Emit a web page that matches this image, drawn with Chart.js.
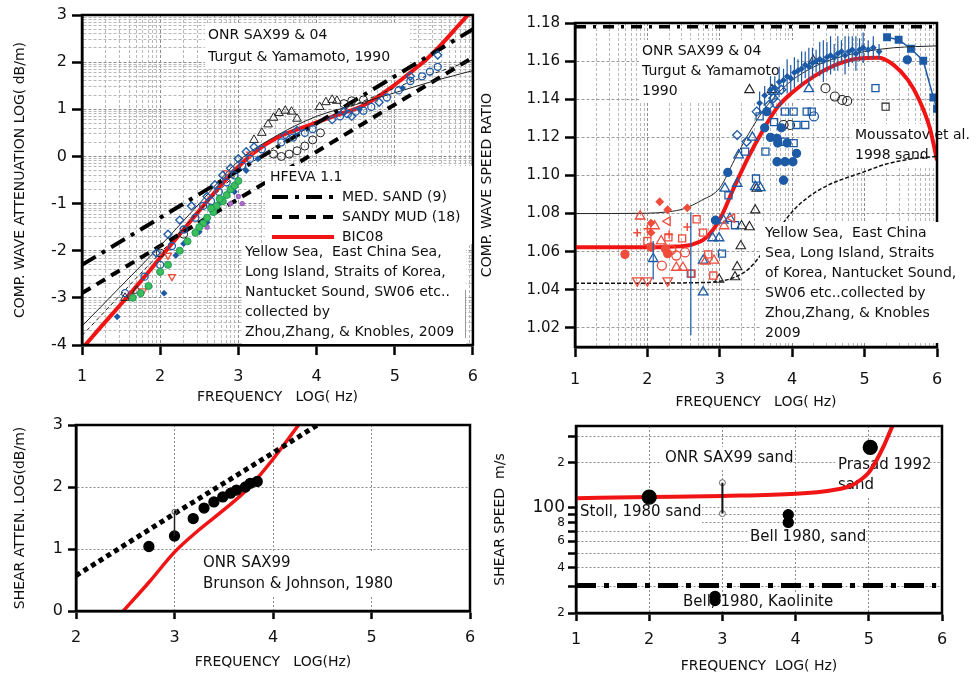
<!DOCTYPE html>
<html>
<head>
<meta charset="utf-8">
<script src="https://cdn.jsdelivr.net/npm/chart.js@4.4.0/dist/chart.umd.min.js"></script>
<style>
  body { margin: 0; background: #fff; width: 977px; height: 679px; position: relative; overflow: hidden; }
  .panel { position: absolute; }
</style>
</head>
<body>
<div class="panel" style="left:0;top:0;width:490px;height:410px"><canvas id="compAtten"></canvas></div>
<div class="panel" style="left:477px;top:0;width:500px;height:415px;background:#fff"><canvas id="compSpeed"></canvas></div>
<div class="panel" style="left:0;top:410px;width:490px;height:265px"><canvas id="shearAtten"></canvas></div>
<div class="panel" style="left:490px;top:410px;width:487px;height:269px"><canvas id="shearSpeed"></canvas></div>
<script>
// ---------- compressional attenuation, log10(dB/m) vs log10(Hz) ----------
const bicFreq = [1.0, 1.25, 1.5, 1.75, 2.0, 2.25, 2.5, 2.75, 3.0, 3.2, 3.5, 3.8, 4.0, 4.3, 4.6, 5.0, 5.2, 5.4, 5.6, 5.8, 6.0];
const bicAtten = [-4.08, -3.6, -3.13, -2.65, -2.15, -1.65, -1.15, -0.66, -0.22, 0.08, 0.4, 0.6, 0.72, 0.9, 1.08, 1.52, 1.78, 2.05, 2.38, 2.75, 3.12];
const medSandFreq = [1, 6];
const medSandAtten = [-2.3, 2.7];
const sandyMudFreq = [1, 6];
const sandyMudAtten = [-2.9, 2.1];
const turgutFreq = [1, 1.5, 2, 2.5, 3, 3.5, 4, 4.5, 5, 5.5, 6];
const turgutAtten = [-3.6, -2.75, -1.9, -1.0, -0.1, 0.45, 0.85, 1.1, 1.35, 1.6, 1.82];
const zhouFreq = [1, 2, 3, 4, 5, 6];
const zhouAtten = [-3.8, -2.05, -0.35, 0.7, 1.45, 2.05];

const attenBlueCirc = [[1.55,-2.9],[1.8,-2.55],[2.0,-2.3],[2.15,-1.9],[2.3,-1.55],[2.45,-1.3],[2.55,-1.05],[2.65,-0.95],[2.75,-0.75],[2.85,-0.55],[2.95,-0.4],[3.05,-0.2],[3.15,-0.05],[3.3,0.15],[3.55,0.3],[3.7,0.4],[3.85,0.5],[3.95,0.58],[4.3,0.85],[4.4,0.9],[4.5,0.95],[4.6,0.97],[4.7,1.05],[4.9,1.25],[5.05,1.4],[5.2,1.6],[5.35,1.7],[5.45,1.8],[5.55,1.9]];
const attenBlueDiam = [[1.95,-2.05],[2.1,-1.65],[2.25,-1.35],[2.4,-1.05],[2.6,-0.85],[2.7,-0.6],[2.8,-0.4],[2.9,-0.25],[3.0,-0.05],[3.1,0.1],[3.2,0.2],[4.2,0.78],[4.35,0.95],[4.45,0.85],[4.8,1.15],[5.2,1.7],[5.55,2.15],[3.6,0.45],[3.75,0.55]];
const attenBlueDot = [[1.45,-3.4],[2.05,-2.9],[2.3,-1.85],[2.5,-1.6],[2.75,-1.0],[2.95,-0.75],[3.1,-0.3],[3.25,-0.05],[2.2,-2.1],[2.6,-1.4],[5.1,1.45],[4.55,1.0]];
const attenGreen = [[1.65,-3.0],[1.75,-2.9],[1.85,-2.75],[2.0,-2.45],[2.1,-2.3],[2.25,-2.0],[2.35,-1.8],[2.45,-1.62],[2.55,-1.42],[2.6,-1.3],[2.68,-1.18],[2.72,-1.05],[2.8,-0.95],[2.85,-0.82],[2.9,-0.7],[2.95,-0.62],[3.0,-0.52],[2.5,-1.5],[2.76,-0.9],[2.65,-1.1]];
const attenBlackTri = [[3.2,0.35],[3.3,0.5],[3.38,0.68],[3.45,0.82],[3.52,0.92],[3.6,0.97],[3.68,0.95],[3.75,0.8],[4.04,1.05],[4.12,1.15],[4.2,1.2],[4.26,1.18],[1.55,-3.0],[1.7,-2.85]];
const attenBlackCirc = [[3.45,0.05],[3.55,0.0],[3.65,0.05],[3.75,0.12],[3.85,0.22],[3.95,0.35],[4.05,0.5],[4.35,1.12],[4.45,1.18],[4.6,1.2],[2.0,-2.05],[2.3,-1.65]];
const attenRed = [[2.1,-2.1],[2.15,-2.55],[2.85,-0.35],[3.15,0.05],[1.78,-2.85]];
const attenPurple = [[2.9,-1.0],[3.0,-0.85],[2.6,-1.5],[3.05,-1.0]];

// ---------- compressional speed ratio vs log10(Hz) ----------
const speedFreq = [1, 1.5, 2, 2.3, 2.6, 2.8, 3.0, 3.2, 3.4, 3.6, 3.8, 4.0, 4.3, 4.6, 4.9, 5.2, 5.4, 5.6, 5.75, 5.9, 6.0];
const speedBic = [1.0623, 1.0623, 1.0623, 1.0626, 1.0636, 1.067, 1.077, 1.094, 1.11, 1.124, 1.136, 1.1435, 1.152, 1.158, 1.1613, 1.1618, 1.158, 1.15, 1.14, 1.125, 1.108];
const turgutSpeedFreq = [1, 2, 2.3, 2.5, 2.75, 3.0, 3.2, 3.4, 3.6, 3.8, 4.0, 4.3, 4.6, 5.0, 5.4, 6.0];
const turgutSpeed = [1.08, 1.0802, 1.081, 1.0825, 1.087, 1.0935, 1.108, 1.122, 1.134, 1.143, 1.15, 1.157, 1.1615, 1.165, 1.167, 1.168];
const moussFreq = [1, 2, 2.6, 3.0, 3.2, 3.4, 3.6, 3.8, 4.0, 4.2, 4.5, 5.0, 5.3, 5.7, 6.0];
const moussSpeed = [1.0435, 1.0435, 1.0437, 1.0445, 1.0465, 1.051, 1.06, 1.071, 1.081, 1.088, 1.095, 1.102, 1.106, 1.109, 1.11];
const medSandSpeedFreq = [1, 6];
const medSandSpeed = [1.178, 1.178];
const onrSpeedFreq = [5.31, 5.47, 5.64, 5.81, 5.95, 6.0];
const onrSpeed = [1.1725, 1.1712, 1.1665, 1.1602, 1.1409, 1.135];
const onrBarFreq = [2.08, 2.6, 3.55, 3.62, 3.7, 3.76, 3.82, 3.88, 3.93, 3.98, 4.03, 4.08, 4.13, 4.18, 4.23, 4.28, 4.33, 4.38, 4.43, 4.48, 4.53, 4.58, 4.63, 4.68, 4.73, 4.78, 4.83, 4.88, 4.93, 4.98, 5.05, 5.12, 5.2];
const onrBarMid = [1.0555, 1.0485, 1.138, 1.142, 1.145, 1.146, 1.149, 1.15, 1.152, 1.151, 1.154, 1.155, 1.156, 1.158, 1.157, 1.159, 1.16, 1.161, 1.16, 1.162, 1.163, 1.162, 1.164, 1.165, 1.163, 1.165, 1.166, 1.164, 1.166, 1.167, 1.166, 1.167, 1.165];
const onrBarHalf = [0.0101, 0.0322, 0.006, 0.005, 0.007, 0.006, 0.008, 0.006, 0.009, 0.007, 0.008, 0.006, 0.009, 0.007, 0.01, 0.008, 0.006, 0.009, 0.011, 0.008, 0.01, 0.007, 0.009, 0.006, 0.01, 0.008, 0.007, 0.009, 0.006, 0.008, 0.005, 0.006, 0.004];

const speedRedTri = [[1.9,1.0786],[2.1,1.0735],[2.19,1.0656],[2.4,1.0517],[2.49,1.0517],[2.8,1.055],[2.92,1.0554],[3.06,1.0735]];
const speedRedTriLeft = [[2.28,1.076],[3.17,1.0776]];
const speedRedSq = [[2.0,1.0656],[2.29,1.0675],[2.48,1.067],[2.68,1.077],[2.77,1.07],[2.61,1.0485],[2.84,1.0586],[2.91,1.0475]];
const speedRedCirc = [[2.2,1.0527],[2.4,1.058],[2.52,1.0596],[2.33,1.061]];
const speedRedDot = [[1.69,1.0586],[2.28,1.059],[2.25,1.0615],[2.05,1.0625]];
const speedRedDiam = [[2.17,1.0862],[2.28,1.082],[2.55,1.083],[2.05,1.075],[2.05,1.07]];
const speedRedCross = [[1.86,1.07],[2.0,1.072],[2.3,1.069],[2.05,1.062],[2.55,1.073]];
const speedRedInv = [[1.86,1.0448],[2.0,1.0448],[2.28,1.0448]];
const speedBlueTri = [[2.08,1.0563],[2.77,1.0388],[2.77,1.0554],[2.9,1.0672],[2.99,1.0672],[3.05,1.0765],[3.14,1.0774],[3.07,1.0932],[3.24,1.0958],[3.26,1.1107],[3.49,1.094],[3.56,1.0935],[3.74,1.144],[4.23,1.1454],[3.45,1.12]];
const speedBlueSq = [[2.6,1.0485],[3.03,1.059],[3.21,1.0739],[3.12,1.0896],[3.35,1.1125],[3.5,1.0984],[3.63,1.1125],[3.9,1.1177],[4.02,1.117],[3.9,1.1335],[4.02,1.1335],[4.06,1.1265],[4.18,1.1265],[4.2,1.1335],[4.27,1.1335],[5.15,1.1458],[3.55,1.131],[3.75,1.128]];
const speedBlueDot = [[2.94,1.0765],[3.11,1.1016],[3.65,1.1335],[3.79,1.1195],[3.79,1.1072],[3.9,1.1072],[4.01,1.1072],[3.88,1.0975],[3.8,1.117],[3.93,1.117],[4.06,1.1116],[3.62,1.125],[3.7,1.12],[3.85,1.125],[5.59,1.1607]];
const speedBlueDiam = [[3.24,1.1212],[3.37,1.1177],[3.51,1.1335],[3.74,1.1405],[3.68,1.137],[3.85,1.145]];
const speedBlueCirc = [[4.3,1.131],[3.78,1.138]];
const speedBlackTri = [[3.41,1.1449],[3.72,1.1449],[4.29,1.1602],[3.49,1.0818],[3.41,1.073],[3.3,1.0735],[3.29,1.063],[3.24,1.052],[3.21,1.0467],[2.99,1.0454],[3.51,1.0932]];
const speedBlackCirc = [[3.88,1.1265],[3.97,1.1265],[4.46,1.1458],[4.59,1.1414],[4.69,1.1396],[4.76,1.1391]];
const speedBlackSq = [[5.29,1.1361]];

// ---------- shear attenuation ----------
const shearBicFreq = [2.48, 2.75, 3.0, 3.25, 3.5, 3.75, 4.0, 4.26];
const shearBicAtten = [0, 0.48, 0.95, 1.31, 1.63, 1.98, 2.45, 3.0];
const shearHfevaFreq = [2, 3, 4, 4.45];
const shearHfevaAtten = [0.57, 1.57, 2.55, 3.0];
const shearSax99 = [[2.74,1.04],[3.0,1.21],[3.19,1.49],[3.3,1.66],[3.4,1.76],[3.49,1.84],[3.57,1.9],[3.63,1.95],[3.72,2.0],[3.77,2.06],[3.84,2.09]];
const shearSax99BarFreq = [3.0];
const shearSax99BarLo = [1.21];
const shearSax99BarHi = [1.6];

// ---------- shear speed, m/s ----------
const shearSpeedFreq = [1, 2, 3, 4, 4.5, 4.75, 4.9, 5.0, 5.1, 5.2, 5.3, 5.4];
const shearSpeedBic = [116, 118, 120, 124, 131, 140, 155, 172, 205, 255, 330, 420];
const kaoliniteFreq = [1, 5.92];
const kaoliniteSpeed = [30.5, 30.5];
const stollSand = [[2.0, 118]];
const prasadSand = [[5.02, 252]];
const bellSand = [[3.9, 90], [3.9, 80]];
const bellKaolinite = [[2.9, 25.8], [2.9, 24.2]];
const sax99SandFreq = [3.0];
const sax99SandLo = [91.6];
const sax99SandHi = [147];
const shearSpeedTicks = [20, 30, 40, 50, 60, 70, 80, 90, 100, 200, 300];
const shearSpeedLabels = { 20: '2', 40: '4', 60: '6', 80: '8', 100: '100', 200: '2' };

Chart.defaults.font.family = "'DejaVu Sans', sans-serif";
Chart.defaults.color = '#111';
Chart.defaults.animation = false;

const BLUE = '#1d5aa6';
const RED = '#f01414';
const PINK = '#ef4c3c';
const FONT = "'DejaVu Sans', sans-serif";

function logMinorTicks(from, to) {
    const out = [];
    for (let k = from; k < to; k++) {
        out.push(k);
        for (let m = 2; m <= 9; m++) out.push(k + Math.log10(m));
    }
    out.push(to);
    return out;
}
function isWhole(v) { return Math.abs(v - Math.round(v)) < 1e-6; }
function fixSize(size) {
    return function(scale) {
        if (scale.isHorizontal()) scale.height = size; else scale.width = size;
    };
}
function setTicks(values) {
    return function(scale) { scale.ticks = values.map(v => ({ value: v })); };
}
function pts(pairs) { return pairs.map(p => ({ x: p[0], y: p[1] })); }
function xy(xs, ys) { return xs.map((x, i) => ({ x: x, y: ys[i] })); }

function marks(pairs, style, color, extra) {
    return Object.assign({
        data: pts(pairs), showLine: false, pointStyle: style, pointRadius: 4,
        borderColor: color, backgroundColor: 'rgba(0,0,0,0)', pointBorderWidth: 1.3
    }, extra || {});
}
function curve(xs, ys, color, width, dash, smooth) {
    return {
        data: xy(xs, ys), showLine: true, borderColor: color, borderWidth: width,
        borderDash: dash || [], pointRadius: 0, fill: false,
        cubicInterpolationMode: smooth ? 'monotone' : 'default', borderCapStyle: 'butt'
    };
}
function bars(xs, lo, hi, color, width) {
    const data = [];
    xs.forEach((x, i) => { data.push({ x: x, y: lo[i] }, { x: x, y: hi[i] }, { x: x, y: NaN }); });
    return { data: data, showLine: true, spanGaps: false, borderColor: color, borderWidth: width, pointRadius: 0 };
}

// text blocks drawn under or over the datasets, plus the plot frame
function drawNotes(ctx, notes) {
    notes.forEach(n => {
        ctx.save();
        if (n.box) { ctx.fillStyle = '#fff'; ctx.fillRect(n.box[0], n.box[1], n.box[2], n.box[3]); }
        ctx.font = (n.size || 14) + 'px ' + FONT;
        ctx.fillStyle = '#111';
        ctx.textBaseline = 'middle';
        n.lines.forEach((t, i) => ctx.fillText(t, n.x, n.y + i * (n.gap || 20)));
        ctx.restore();
    });
}
function notesPlugin(cfg) {
    return {
        id: 'notes',
        beforeDatasetsDraw(chart) { drawNotes(chart.ctx, cfg.under || []); },
        afterDatasetsDraw(chart) {
            const a = chart.chartArea, ctx = chart.ctx;
            ctx.save();
            ctx.strokeStyle = '#000';
            ctx.lineWidth = 2.5;
            ctx.strokeRect(a.left, a.top, a.right - a.left, a.bottom - a.top);
            ctx.restore();
            drawNotes(ctx, cfg.over || []);
            if (cfg.after) cfg.after(chart);
        }
    };
}

function baseOptions(padding) {
    return {
        responsive: true, maintainAspectRatio: false, events: [],
        layout: { padding: padding },
        plugins: { legend: { display: false }, tooltip: { enabled: false } }
    };
}
function linearAxis(o) {
    return {
        type: o.type || 'linear', min: o.min, max: o.max,
        afterBuildTicks: setTicks(o.ticks), afterFit: fixSize(o.size),
        ticks: {
            autoSkip: false, maxRotation: 0, minRotation: 0, padding: o.pad, color: '#111',
            font: o.tickFont || { size: 16 }, callback: o.label
        },
        grid: {
            color: o.gridColor, lineWidth: 1, tickLength: o.tickLength || 10,
            tickColor: o.tickColor || '#000', tickWidth: 2.5
        },
        border: { display: true, color: '#000', width: 2.5, dash: o.dash },
        title: { display: true, text: o.title, color: '#111', font: { size: 14 }, padding: o.titlePad || { top: 2, bottom: 4 } }
    };
}

// ---------------- top-left: compressional attenuation ----------------
const attenMinorX = logMinorTicks(1, 6);
const attenMinorY = logMinorTicks(-4, 3);
new Chart(document.getElementById('compAtten'), {
    type: 'scatter',
    data: {
        datasets: [
            marks(attenGreen, 'circle', '#1e9a5a', { backgroundColor: '#3cbf5a', pointRadius: 3.5, pointBorderWidth: 1 }),
            marks(attenPurple, 'circle', '#a060c0', { backgroundColor: '#b070d0', pointRadius: 2 }),
            marks(attenBlueCirc, 'circle', BLUE, { pointRadius: 3.5 }),
            marks(attenBlueDiam, 'rectRot', BLUE, { pointRadius: 4 }),
            marks(attenBlueDot, 'rectRot', BLUE, { backgroundColor: BLUE, pointRadius: 2.5 }),
            marks(attenBlackTri, 'triangle', '#222', { pointRadius: 5, pointBorderWidth: 1 }),
            marks(attenBlackCirc, 'circle', '#222', { pointRadius: 4, pointBorderWidth: 1 }),
            marks(attenRed, 'triangle', PINK, { pointRadius: 4, pointRotation: 180 }),
            curve(zhouFreq, zhouAtten, '#222', 1, [4, 3], true),
            curve(turgutFreq, turgutAtten, '#222', 1, [], true),
            curve(sandyMudFreq, sandyMudAtten, '#000', 4, [10, 7]),
            curve(medSandFreq, medSandAtten, '#000', 4, [16, 7, 4, 7]),
            curve(bicFreq, bicAtten, RED, 4, [], true)
        ]
    },
    options: Object.assign(baseOptions({ left: 10, right: 17, top: 15, bottom: 0 }), {
        scales: {
            x: linearAxis({
                min: 1, max: 6, ticks: attenMinorX, size: 65, pad: 12, dash: [3, 2],
                label: v => isWhole(v) ? String(Math.round(v)) : '',
                gridColor: c => isWhole(c.tick.value) ? '#8c8c8c' : '#b8b8b8',
                tickColor: c => isWhole(c.tick.value) ? '#000' : 'rgba(0,0,0,0)',
                title: 'FREQUENCY   LOG( Hz)'
            }),
            y: linearAxis({
                min: -4, max: 3, ticks: attenMinorY, size: 72, pad: 5, dash: [3, 2],
                label: v => isWhole(v) ? String(Math.round(v)) : '',
                gridColor: c => isWhole(c.tick.value) ? '#8c8c8c' : '#b8b8b8',
                tickColor: c => isWhole(c.tick.value) ? '#000' : 'rgba(0,0,0,0)',
                title: 'COMP. WAVE ATTENUATION LOG( dB/m)'
            })
        }
    }),
    plugins: [notesPlugin({
        under: [
            { x: 208, y: 35, gap: 22, box: [205, 24, 205, 45], lines: ['ONR SAX99 & 04', 'Turgut & Yamamoto, 1990'] }
        ],
        after(chart) {
            const ctx = chart.ctx;
            ctx.save();
            ctx.fillStyle = '#fff';
            ctx.fillRect(265, 166, 207, 78);
            ctx.font = '14px ' + FONT;
            ctx.fillStyle = '#111';
            ctx.textBaseline = 'middle';
            ctx.fillText('HFEVA 1.1', 270, 177);
            const rows = [
                { label: 'MED. SAND (9)', color: '#000', dash: [16, 7, 4, 7] },
                { label: 'SANDY MUD (18)', color: '#000', dash: [10, 7] },
                { label: 'BIC08', color: RED, dash: [] }
            ];
            rows.forEach((r, i) => {
                const y = 197 + i * 20;
                ctx.strokeStyle = r.color;
                ctx.lineWidth = 4;
                ctx.setLineDash(r.dash);
                ctx.beginPath(); ctx.moveTo(272, y); ctx.lineTo(334, y); ctx.stroke();
                ctx.fillText(r.label, 342, y);
            });
            ctx.setLineDash([]);
            ctx.fillStyle = '#fff';
            ctx.fillRect(242, 244, 224, 100);
            ctx.fillStyle = '#111';
            ['Yellow Sea,  East China Sea,', 'Long Island, Straits of Korea,', 'Nantucket Sound, SW06 etc..',
             'collected by', 'Zhou,Zhang, & Knobles, 2009'].forEach((t, i) => ctx.fillText(t, 245, 252 + i * 20));
            ctx.strokeStyle = '#999';
            ctx.lineWidth = 1;
            ctx.beginPath(); ctx.moveTo(465.5, 290); ctx.lineTo(465.5, 338); ctx.stroke();
            ctx.restore();
        }
    })]
});

// ---------------- top-right: compressional speed ratio ----------------
const speedMinorX = logMinorTicks(1, 6);
const speedTicksY = [1.02, 1.04, 1.06, 1.08, 1.10, 1.12, 1.14, 1.16, 1.18];
new Chart(document.getElementById('compSpeed'), {
    type: 'scatter',
    data: {
        datasets: [
            bars(onrBarFreq, onrBarMid.map((m, i) => m - onrBarHalf[i]), onrBarMid.map((m, i) => m + onrBarHalf[i]), BLUE, 1.2),
            marks(speedRedTri, 'triangle', PINK, { pointRadius: 5.5 }),
            marks(speedRedTriLeft, 'triangle', PINK, { pointRadius: 5, pointRotation: -90 }),
            marks(speedRedSq, 'rect', PINK, { pointRadius: 5 }),
            marks(speedRedCirc, 'circle', PINK, { pointRadius: 4.5 }),
            marks(speedRedDot, 'circle', PINK, { backgroundColor: PINK, pointRadius: 4 }),
            marks(speedRedDiam, 'rectRot', PINK, { backgroundColor: PINK, pointRadius: 3.5 }),
            marks(speedRedCross, 'cross', PINK, { pointRadius: 4, pointBorderWidth: 1.5 }),
            marks(speedRedInv, 'triangle', PINK, { pointRadius: 5.5, pointRotation: 180 }),
            marks(speedBlueTri, 'triangle', BLUE, { pointRadius: 5.5 }),
            marks(speedBlueSq, 'rect', BLUE, { pointRadius: 5 }),
            marks(speedBlueDot, 'circle', BLUE, { backgroundColor: BLUE, pointRadius: 4 }),
            marks(speedBlueDiam, 'rectRot', BLUE, { pointRadius: 4.5 }),
            marks(speedBlueCirc, 'circle', BLUE, { pointRadius: 4.5 }),
            marks(onrBarFreq.map((x, i) => [x, onrBarMid[i]]).slice(2), 'rectRot', BLUE, { backgroundColor: BLUE, pointRadius: 2.5 }),
            marks(speedBlackTri, 'triangle', '#222', { pointRadius: 5.5, pointBorderWidth: 1.1 }),
            marks(speedBlackCirc, 'circle', '#222', { pointRadius: 4.5, pointBorderWidth: 1.1 }),
            marks(speedBlackSq, 'rect', '#222', { pointRadius: 5, pointBorderWidth: 1.1 }),
            curve(moussFreq, moussSpeed, '#111', 1.5, [4, 2], true),
            curve(turgutSpeedFreq, turgutSpeed, '#222', 1, [], true),
            curve(medSandSpeedFreq, medSandSpeed, '#000', 3.5, [11, 7, 3, 7]),
            Object.assign(curve(onrSpeedFreq, onrSpeed, BLUE, 1.5), { pointRadius: 4.5, pointStyle: 'rect', pointBackgroundColor: BLUE, pointBorderColor: BLUE }),
            curve(speedFreq, speedBic, RED, 4, [], true)
        ]
    },
    options: Object.assign(baseOptions({ left: 0, right: 40, top: 23, bottom: 0 }), {
        scales: {
            x: linearAxis({
                min: 1, max: 6, ticks: speedMinorX, size: 68, pad: 13, dash: [3, 2],
                label: v => isWhole(v) ? String(Math.round(v)) : '',
                gridColor: c => isWhole(c.tick.value) ? '#8c8c8c' : '#b8b8b8',
                tickColor: c => isWhole(c.tick.value) ? '#000' : 'rgba(0,0,0,0)',
                title: 'FREQUENCY   LOG( Hz)'
            }),
            y: linearAxis({
                min: 1.01, max: 1.18, ticks: speedTicksY, size: 98, pad: 5, dash: [3, 2],
                tickFont: { size: 15 },
                label: v => v.toFixed(2),
                gridColor: '#9a9a9a',
                title: 'COMP. WAVE SPEED RATIO'
            })
        }
    }),
    plugins: [notesPlugin({
        under: [
            { x: 165, y: 51, box: [162, 40, 155, 62], lines: ['ONR SAX99 & 04', 'Turgut & Yamamoto', '1990'] },
            { x: 378, y: 135, box: [375, 124, 122, 42], lines: ['Moussatov et al.', '1998 sand'] }
        ],
        over: [
            { x: 288, y: 233, box: [283, 222, 215, 121], lines: ['Yellow Sea,  East China', 'Sea, Long Island, Straits', 'of Korea, Nantucket Sound,', 'SW06 etc..collected by', 'Zhou,Zhang, & Knobles', '2009'] }
        ]
    })]
});

// ---------------- bottom-left: shear attenuation ----------------
new Chart(document.getElementById('shearAtten'), {
    type: 'scatter',
    data: {
        datasets: [
            bars(shearSax99BarFreq, shearSax99BarLo, shearSax99BarHi, '#222', 1.5),
            marks(shearSax99, 'circle', '#000', { backgroundColor: '#000', pointRadius: 5 }),
            marks([[3.0, 1.6]], 'circle', '#555', { pointRadius: 2.5, pointBorderWidth: 1 }),
            curve(shearHfevaFreq, shearHfevaAtten, '#000', 5, [5, 4]),
            curve(shearBicFreq, shearBicAtten, RED, 3.5, [], true)
        ]
    },
    options: Object.assign(baseOptions({ left: 10, right: 20, top: 15, bottom: 0 }), {
        scales: {
            x: linearAxis({
                min: 2, max: 6, ticks: [2, 3, 4, 5, 6], size: 64, pad: 9, dash: [2, 2], tickLength: 8,
                label: v => String(v), gridColor: '#8c8c8c',
                title: 'FREQUENCY   LOG(Hz)'
            }),
            y: linearAxis({
                min: 0, max: 3, ticks: [0, 1, 2, 3], size: 66, pad: 5, dash: [2, 2], tickLength: 8,
                label: v => String(v), gridColor: '#8c8c8c',
                title: 'SHEAR ATTEN. LOG(dB/m)'
            })
        }
    }),
    plugins: [notesPlugin({
        under: [
            { x: 203, y: 153, gap: 21, size: 15, box: [200, 141, 195, 45], lines: ['ONR SAX99', 'Brunson & Johnson, 1980'] }
        ]
    })]
});

// ---------------- bottom-right: shear speed ----------------
new Chart(document.getElementById('shearSpeed'), {
    type: 'scatter',
    data: {
        datasets: [
            bars(sax99SandFreq, sax99SandLo, sax99SandHi, '#111', 2),
            marks([[3.0, 91.6], [3.0, 147]], 'circle', '#666', { backgroundColor: '#fff', pointRadius: 3, pointBorderWidth: 1 }),
            marks(stollSand, 'circle', '#000', { backgroundColor: '#000', pointRadius: 7 }),
            marks(prasadSand, 'circle', '#000', { backgroundColor: '#000', pointRadius: 7 }),
            marks(bellSand, 'circle', '#000', { backgroundColor: '#000', pointRadius: 5 }),
            marks(bellKaolinite, 'circle', '#000', { backgroundColor: '#000', pointRadius: 5 }),
            curve(kaoliniteFreq, kaoliniteSpeed, '#000', 5, [20, 8, 5, 8]),
            curve(shearSpeedFreq, shearSpeedBic, RED, 4, [], true)
        ]
    },
    options: Object.assign(baseOptions({ left: 0, right: 35, top: 16, bottom: 0 }), {
        scales: {
            x: linearAxis({
                min: 1, max: 6, ticks: [1, 2, 3, 4, 5, 6], size: 66, pad: 9, dash: [2, 2], tickLength: 8,
                label: v => String(v), gridColor: '#8c8c8c',
                title: 'FREQUENCY  LOG( Hz)'
            }),
            y: linearAxis({
                type: 'logarithmic', min: 20, max: 350, ticks: shearSpeedTicks, size: 86, pad: 3, dash: [2, 2], tickLength: 8,
                tickFont: c => ({ size: c.tick && c.tick.value === 100 ? 17 : 12 }),
                label: v => shearSpeedLabels[v] || '',
                gridColor: '#8c8c8c',
                title: 'SHEAR SPEED  m/s'
            })
        }
    }),
    plugins: [notesPlugin({
        under: [
            { x: 175, y: 48, size: 15, box: [172, 37, 128, 22], lines: ['ONR SAX99 sand'] },
            { x: 348, y: 55, size: 15, box: [345, 44, 95, 42], lines: ['Prasad 1992', 'sand'] },
            { x: 90, y: 102, size: 15, box: [88, 91, 124, 22], lines: ['Stoll, 1980 sand'] },
            { x: 260, y: 127, size: 15, box: [258, 116, 118, 22], lines: ['Bell 1980, sand'] },
            { x: 193, y: 192, size: 15, box: [191, 182, 150, 19], lines: ['Bell, 1980, Kaolinite'] }
        ]
    })]
});
</script>
</body>
</html>
